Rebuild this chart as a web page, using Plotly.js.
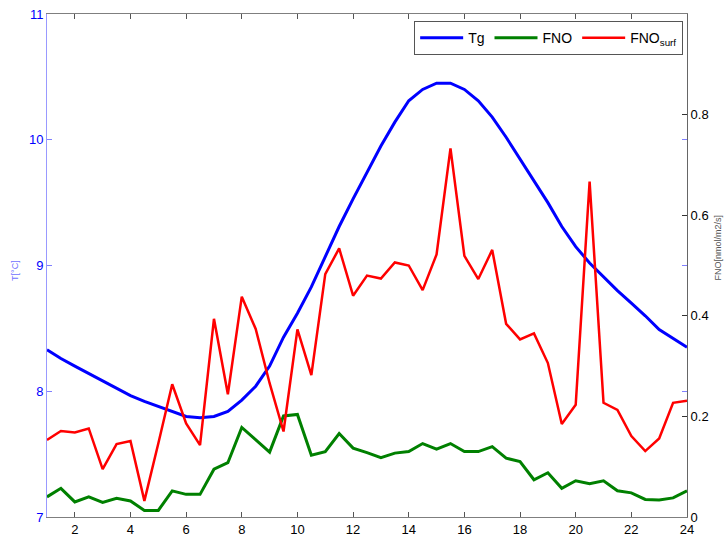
<!DOCTYPE html>
<html>
<head>
<meta charset="utf-8">
<script src="https://cdn.plot.ly/plotly-3.0.1.min.js"></script>
<style>
html,body{margin:0;padding:0;background:#fff;}
#chart{width:726px;height:537px;}
</style>
</head>
<body>
<div id="chart"></div>
<script>
var hours = [1,1.5,2,2.5,3,3.5,4,4.5,5,5.5,6,6.5,7,7.5,8,8.5,9,9.5,10,10.5,11,11.5,12,12.5,13,13.5,14,14.5,15,15.5,16,16.5,17,17.5,18,18.5,19,19.5,20,20.5,21,21.5,22,22.5,23,23.5,24];

var tg = [8.33,8.26,8.20,8.14,8.08,8.02,7.965,7.92,7.88,7.84,7.80,7.79,7.80,7.84,7.93,8.04,8.20,8.43,8.62,8.83,9.07,9.31,9.53,9.74,9.95,10.14,10.31,10.40,10.45,10.45,10.40,10.31,10.18,10.02,9.85,9.67,9.50,9.31,9.15,9.02,8.91,8.80,8.70,8.60,8.49,8.42,8.35];

var fno = [0.040,0.057,0.030,0.040,0.029,0.037,0.032,0.013,0.013,0.052,0.045,0.045,0.095,0.108,0.178,0.153,0.129,0.201,0.204,0.123,0.130,0.166,0.137,0.128,0.118,0.127,0.130,0.146,0.135,0.146,0.130,0.130,0.140,0.117,0.110,0.074,0.088,0.057,0.072,0.066,0.072,0.052,0.048,0.035,0.034,0.038,0.052];

var fnoSurf = [0.153,0.171,0.168,0.176,0.095,0.145,0.151,0.032,0.146,0.264,0.186,0.143,0.394,0.244,0.438,0.374,0.266,0.170,0.373,0.282,0.483,0.534,0.440,0.480,0.474,0.506,0.500,0.451,0.522,0.733,0.519,0.473,0.531,0.384,0.353,0.365,0.306,0.185,0.223,0.667,0.227,0.213,0.161,0.131,0.156,0.227,0.231];

var xTicks = [2,4,6,8,10,12,14,16,18,20,22,24];
var leftTicks = [7,8,9,10,11];
var rightTicks = [0,0.2,0.4,0.6,0.8];

var traces = [
  {x: hours, y: tg, name: 'Tg', type: 'scatter', mode: 'lines',
   line: {color: '#0000ff', width: 3}, yaxis: 'y'},
  {x: hours, y: fno, name: 'FNO', type: 'scatter', mode: 'lines',
   line: {color: '#008000', width: 3}, yaxis: 'y2'},
  {x: hours, y: fnoSurf, name: 'FNO<sub>surf</sub>', type: 'scatter', mode: 'lines',
   line: {color: '#ff0000', width: 2.5}, yaxis: 'y2'}
];

var layout = {
  width: 726, height: 537,
  margin: {l: 47, r: 39, t: 14, b: 20, pad: 0},
  paper_bgcolor: '#ffffff', plot_bgcolor: '#ffffff',
  font: {family: 'Liberation Sans, Arial, sans-serif', size: 13, color: '#000'},
  showlegend: true,
  legend: {
    orientation: 'h', x: 0.994, xanchor: 'right', y: 0.986, yanchor: 'top',
    bgcolor: '#ffffff', bordercolor: '#555555', borderwidth: 1,
    font: {size: 14, color: '#000'}, itemwidth: 43, traceorder: 'normal',
    itemclick: false
  },
  xaxis: {
    range: [1, 24], tickvals: xTicks, ticktext: xTicks.map(String),
    ticks: 'inside', ticklen: 5, tickcolor: '#555555',
    showline: true, linecolor: '#7f7f7f', linewidth: 1, mirror: 'ticks',
    showgrid: false, zeroline: false,
    tickfont: {size: 13, color: '#000'}
  },
  yaxis: {
    range: [7, 11], tickvals: leftTicks, ticktext: leftTicks.map(String),
    ticks: 'inside', ticklen: 5, tickcolor: '#8080ff',
    showline: true, linecolor: '#9999ff', linewidth: 1, mirror: 'ticks',
    showgrid: false, zeroline: false,
    tickfont: {size: 13, color: '#0000ff'}
  },
  yaxis2: {
    range: [0, 1], tickvals: rightTicks, ticktext: rightTicks.map(String),
    overlaying: 'y', side: 'right', anchor: 'x',
    ticks: 'inside', ticklen: 5, tickcolor: '#333333',
    showline: true, linecolor: '#666666', linewidth: 1,
    showgrid: false, zeroline: false,
    tickfont: {size: 13, color: '#000'}
  },
  annotations: [
    {text: 'T[°C]', xref: 'paper', yref: 'paper', x: -0.051, y: 0.49,
     xanchor: 'center', yanchor: 'middle', textangle: -90, showarrow: false,
     font: {size: 9, color: '#7070ff'}},
    {text: 'FNO[nmol/m2/s]', xref: 'paper', yref: 'paper', x: 1.048, y: 0.535,
     xanchor: 'center', yanchor: 'middle', textangle: -90, showarrow: false,
     font: {size: 9, color: '#555555'}}
  ]
};

Plotly.newPlot('chart', traces, layout, {displayModeBar: false, staticPlot: true});
</script>
</body>
</html>
